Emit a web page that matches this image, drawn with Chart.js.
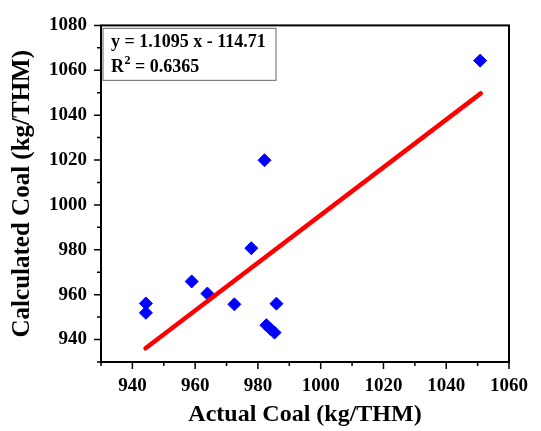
<!DOCTYPE html>
<html>
<head>
<meta charset="utf-8">
<script src="https://cdn.jsdelivr.net/npm/chart.js@4/dist/chart.umd.min.js"></script>
<style>
  html, body { margin: 0; padding: 0; background: #fff; }
  #wrap { width: 541px; height: 431px; }
</style>
</head>
<body>
<div id="wrap"><canvas id="c" width="541" height="431"></canvas></div>
<script>
// ---- data ----
const actualCoal = [1050.8, 982.1, 977.9, 958.9, 963.9, 972.5, 985.9, 944.3, 944.3, 982.7, 984.0, 985.3];
const calculatedCoal = [1064.3, 1019.9, 980.7, 965.9, 960.5, 955.7, 956.0, 956.1, 951.9, 946.4, 944.7, 943.1];
const fitX = [944.2, 1051.0];
const fitY = [936.1, 1049.7];
const xTickLabels = [940, 960, 980, 1000, 1020, 1040, 1060];
const yTickLabels = [940, 960, 980, 1000, 1020, 1040, 1060, 1080];
const xMinorTicks = [930, 950, 970, 990, 1010, 1030, 1050];
const yMinorTicks = [930, 950, 970, 990, 1010, 1030, 1050, 1070];
const equationText = 'y = 1.1095 x - 114.71';
const r2Value = '0.6365';
const xTitle = 'Actual Coal (kg/THM)';
const yTitle = 'Calculated Coal (kg/THM)';

const SERIF = "'Liberation Serif', 'Times New Roman', serif";

const scatterPoints = actualCoal.map((x, i) => ({ x: x, y: calculatedCoal[i] }));
const fitPoints = fitX.map((x, i) => ({ x: x, y: fitY[i] }));

const framePlugin = {
  id: 'frame',
  afterDraw(chart) {
    const ctx = chart.ctx;
    const a = chart.chartArea;
    const xs = chart.scales.x, ys = chart.scales.y;
    ctx.save();
    ctx.strokeStyle = '#000';
    ctx.lineWidth = 2;
    ctx.strokeRect(a.left, a.top, a.right - a.left, a.bottom - a.top);
    ctx.lineWidth = 1.5;
    ctx.beginPath();
    xTickLabels.forEach(v => { const p = xs.getPixelForValue(v); ctx.moveTo(p, a.bottom); ctx.lineTo(p, a.bottom + 7); });
    xMinorTicks.forEach(v => { const p = xs.getPixelForValue(v); ctx.moveTo(p, a.bottom); ctx.lineTo(p, a.bottom + 4); });
    yTickLabels.forEach(v => { const p = ys.getPixelForValue(v); ctx.moveTo(a.left, p); ctx.lineTo(a.left - 7, p); });
    yMinorTicks.forEach(v => { const p = ys.getPixelForValue(v); ctx.moveTo(a.left, p); ctx.lineTo(a.left - 4, p); });
    ctx.stroke();

    // equation box
    const bx = a.left + 2, by = a.top + 3, bw = 173, bh = 52;
    ctx.fillStyle = '#fff';
    ctx.fillRect(bx, by, bw, bh);
    ctx.strokeStyle = '#7f7f7f';
    ctx.lineWidth = 1.2;
    ctx.strokeRect(bx, by, bw, bh);
    ctx.fillStyle = '#000';
    ctx.textAlign = 'left';
    ctx.textBaseline = 'alphabetic';
    ctx.font = 'bold 18px ' + SERIF;
    ctx.fillText(equationText, bx + 8, by + 19);
    let tx = bx + 8;
    const ty = by + 44;
    ctx.fillText('R', tx, ty);
    tx += ctx.measureText('R').width;
    ctx.font = 'bold 12px ' + SERIF;
    ctx.fillText('2', tx + 0.5, ty - 8);
    tx += ctx.measureText('2').width + 0.5;
    ctx.font = 'bold 18px ' + SERIF;
    ctx.fillText(' = ' + r2Value, tx, ty);
    ctx.restore();
  }
};

new Chart(document.getElementById('c'), {
  type: 'scatter',
  data: {
    datasets: [
      {
        type: 'line',
        label: 'Fit',
        data: fitPoints,
        borderColor: '#ff0000',
        borderWidth: 4.5,
        borderCapStyle: 'round',
        pointRadius: 0,
        fill: false,
        order: 0
      },
      {
        label: 'Data',
        data: scatterPoints,
        pointStyle: 'rectRot',
        pointRadius: 6.5,
        pointBackgroundColor: '#0000ff',
        pointBorderColor: '#0000ff',
        pointBorderWidth: 1,
        order: 1
      }
    ]
  },
  options: {
    responsive: false,
    animation: false,
    events: [],
    layout: { padding: { left: 0, right: 22, top: 18, bottom: 0 } },
    plugins: { legend: { display: false }, tooltip: { enabled: false } },
    scales: {
      x: {
        type: 'linear',
        min: 930, max: 1060,
        afterFit: s => { s.height = 69; },
        afterBuildTicks: s => { s.ticks = xTickLabels.map(v => ({ value: v })); },
        grid: { display: false, drawTicks: false },
        border: { display: false },
        ticks: { color: '#000', padding: 13, maxRotation: 0, autoSkip: false,
                 callback: v => String(v),
                 font: { family: SERIF, size: 19, weight: 'bold' } },
        title: { display: true, text: xTitle, color: '#000', padding: { top: 0, bottom: 2 },
                 font: { family: SERIF, size: 24, weight: 'bold' } }
      },
      y: {
        type: 'linear',
        min: 930, max: 1080,
        afterFit: s => { s.width = 101; },
        afterBuildTicks: s => { s.ticks = yTickLabels.map(v => ({ value: v })); },
        grid: { display: false, drawTicks: false },
        border: { display: false },
        ticks: { color: '#000', padding: 14, autoSkip: false,
                 callback: v => String(v),
                 font: { family: SERIF, size: 19, weight: 'bold' } },
        title: { display: true, text: yTitle, color: '#000', padding: { top: 8, bottom: 0 },
                 font: { family: SERIF, size: 25, weight: 'bold' } }
      }
    }
  },
  plugins: [framePlugin]
});
</script>
</body>
</html>
